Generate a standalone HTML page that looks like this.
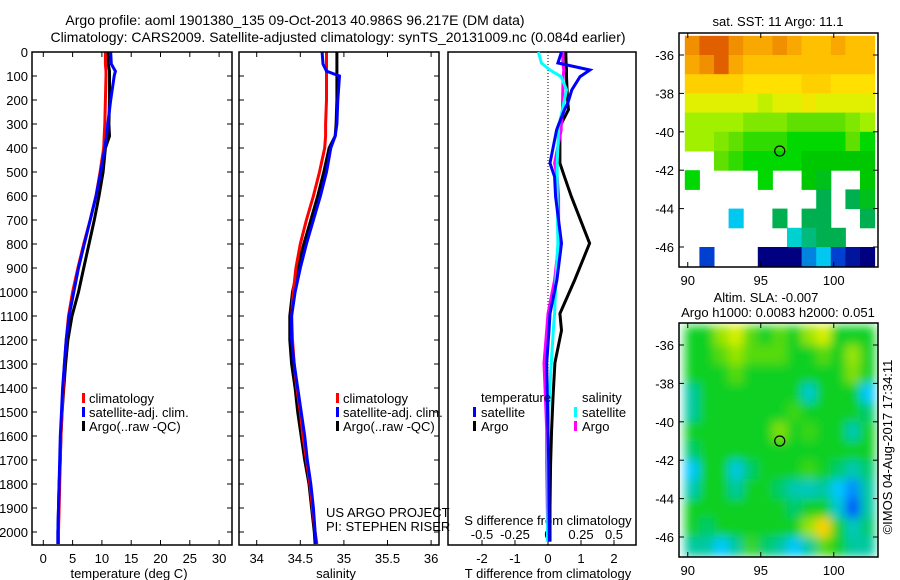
<!DOCTYPE html>
<html><head><meta charset="utf-8"><style>
html,body{margin:0;padding:0;background:#fff}
svg{display:block;font-family:"Liberation Sans",sans-serif}
</style></head><body>
<svg id="fig" width="900" height="580" viewBox="0 0 900 580">
<text x="295" y="25" font-size="14" text-anchor="middle">Argo profile: aoml 1901380_135 09-Oct-2013 40.986S 96.217E (DM data)</text>
<text x="338" y="42" font-size="14" text-anchor="middle">Climatology: CARS2009. Satellite-adjusted climatology: synTS_20131009.nc (0.084d earlier)</text>
</svg>
<script>
// ---------- data ----------
const depthTicks=[0,100,200,300,400,500,600,700,800,900,1000,1100,1200,1300,1400,1500,1600,1700,1800,1900,2000];
const tDepth=[0,50,80,100,200,300,350,400,500,600,700,800,900,1000,1100,1200,1300,1400,1500,1600,1700,1800,1900,2000,2050];
const tempClim=[10.6,10.6,10.7,10.7,10.6,10.5,10.4,10.3,9.7,9.0,8.0,6.9,5.9,5.0,4.3,3.9,3.6,3.4,3.2,3.0,2.9,2.8,2.7,2.6,2.6];
const tempSat=[11.5,11.6,12.3,12.1,11.5,11.0,10.8,10.5,9.8,9.0,8.0,7.0,6.0,5.2,4.4,3.9,3.6,3.3,3.1,2.9,2.8,2.7,2.6,2.5,2.5];
const tempArgo=[11.0,11.1,11.3,11.3,11.3,11.2,11.3,10.6,10.2,9.5,8.7,7.8,6.9,6.0,4.9,4.2,3.8,3.5,3.2,3.0,2.9,2.7,2.6,2.5,2.5];
const salClim=[34.80,34.80,34.80,34.80,34.80,34.79,34.79,34.78,34.72,34.65,34.57,34.50,34.45,34.42,34.40,34.41,34.43,34.46,34.50,34.53,34.57,34.61,34.64,34.67,34.69];
const salSat=[34.75,34.76,34.80,34.95,34.93,34.92,34.90,34.85,34.80,34.73,34.65,34.57,34.50,34.44,34.40,34.40,34.43,34.47,34.51,34.55,34.58,34.62,34.65,34.67,34.68];
const salArgo=[34.92,34.92,34.92,34.92,34.92,34.91,34.90,34.83,34.77,34.70,34.62,34.54,34.47,34.41,34.38,34.38,34.40,34.44,34.47,34.51,34.55,34.60,34.63,34.66,34.67];
const tTicks=[0,5,10,15,20,25,30];
const sTicks=[34,34.5,35,35.5,36];
const sTickLabels=["34","34.5","35","35.5","36"];
const dDepth=[0,46,75,103,158,213,240,310,325,463,520,603,797,950,1090,1160,1296,1440,1575,1715,1896,2040];
const dTSat=[0.41,0.30,1.27,0.97,0.72,0.60,0.50,0.30,0.26,0.06,0.20,0.23,0.41,0.27,0.06,0.03,-0.04,-0.02,0.00,0.02,0.03,0.04];
const dTArgo=[0.54,0.55,0.56,0.56,0.58,0.60,0.62,0.36,0.36,0.36,0.50,0.71,1.26,0.81,0.36,0.41,0.21,0.15,0.11,0.08,0.06,0.06];
const dSSat=[-0.073,-0.05,0.015,0.10,0.14,0.12,0.11,0.08,0.08,0.07,0.07,0.07,0.075,0.06,0.05,0.04,0.025,0.01,0.0,0.0,0.0,-0.005];
const dSArgo=[0.113,0.113,0.12,0.115,0.112,0.11,0.11,0.10,0.10,0.05,0.07,0.08,0.08,0.05,0.0,-0.01,-0.03,-0.02,-0.01,-0.01,-0.005,0.0];
const dtTicks=[-2,-1,0,1,2];
const dsTicks=[-0.5,-0.25,0,0.25,0.5];
const dsTickLabels=["-0.5","-0.25","0","0.25","0.5"];
const mapLons=[89.8,90.8,91.8,92.8,93.8,94.8,95.8,96.8,97.8,98.8,99.8,100.8,101.8];
const mapLats=[-35,-36,-37,-38,-39,-40,-41,-42,-43,-44,-45,-46];
const lonTicks=[90,95,100];
const latTicks=[-36,-38,-40,-42,-44,-46];
const N=null;
const sstGrid=[
[16,16.5,16.5,16,15.5,15.5,16,15.5,15,15,15.5,15,15],
[15.5,16,16.5,15.5,15,15,15,15,15,15,15,15,15],
[14.5,14.5,14.5,14.5,14,14,14,14,14.5,14.5,14,14,14],
[13,13,13,13,13,12.5,13,13,13.5,13,13,13,13],
[12,12,12,12,11.5,11.5,11.5,11,11,11,11,11.5,12],
[12,12,11.5,11,10.5,10.5,10.5,10,10,10,10,11,10],
[N,N,11,10.5,10,10,10,10,9.5,9.5,9.5,9.5,9.5],
[10,N,N,N,N,10,N,N,9.5,9,N,N,9.5],
[N,N,N,N,N,N,N,N,N,8,N,8,9],
[N,N,N,4,N,N,8,N,8,8,N,N,8],
[N,N,N,N,N,N,N,5,7,8,8,N,N],
[N,2,N,N,N,0.5,0.5,0.5,3,4,2,1,0.5]];
const slaGrid=[
[0,0,0.1,0.15,0.05,0,0.05,0,0.1,0.15,0,0,0],
[0,0,0.05,0.1,0.05,0.05,0.05,0,0,0.05,0,0.1,0],
[0,0,0,0.05,0,0,0,0,0,0,0,0.08,0],
[-0.05,0,0,0,0,0,0,0,-0.1,0,0,0,-0.15],
[-0.05,0,0,0,0,0,0,0.03,0,0,0,0,-0.03],
[0,0,0,0,0,0,0.08,0,0.03,0,0,-0.07,0],
[-0.03,0,0,0,0,0,0,0,0,0,0,0,0],
[-0.15,0,0,-0.12,-0.03,0,0,0,0.03,0,-0.03,-0.07,-0.03],
[-0.07,0,0,-0.05,0,0,-0.03,-0.07,-0.08,-0.05,-0.15,-0.2,-0.05],
[0,0,0,0,0,0,0,-0.03,0,0,-0.1,-0.25,-0.05],
[0,-0.03,0,0,0,0,0,0,0.1,0.2,0,-0.08,-0.03],
[-0.05,-0.05,-0.15,-0.05,0.03,-0.03,-0.05,-0.15,-0.05,0.05,0,-0.05,-0.05]];
const argoLon=96.3, argoLat=-41;

// ---------- helpers ----------
const NS="http://www.w3.org/2000/svg";
const svg=document.getElementById('fig');
function mk(tag,attrs,parent){const e=document.createElementNS(NS,tag);for(const k in attrs)e.setAttribute(k,attrs[k]);(parent||svg).appendChild(e);return e;}
function txt(x,y,s,size,anchor,parent){const t=mk('text',{x:x,y:y,'font-size':size,'text-anchor':anchor||'start'},parent);t.textContent=s;return t;}
const yD=d=>52+d*0.24;
const xT=t=>43.3+t*5.86;
const xS=s=>256.7+(s-34)*87.2;
const xDT=t=>548+t*33;
const xDS=s=>548+s*132;
function poly(xs,ys,fx,color,name,parent){
  const pts=xs.map((v,i)=>fx(v).toFixed(1)+','+yD(ys[i]).toFixed(1)).join(' ');
  const p=mk('polyline',{points:pts,fill:'none',stroke:color,'stroke-width':3,'stroke-linejoin':'miter'},parent);
  
  
}
function frame(x0,x1,name){
  const r=mk('rect',{x:x0,y:52,width:x1-x0,height:493,fill:'none',stroke:'#000','stroke-width':1.5});
  
  
  for(const d of depthTicks){mk('line',{x1:x0,y1:yD(d),x2:x0+5,y2:yD(d),stroke:'#000'});mk('line',{x1:x1,y1:yD(d),x2:x1-5,y2:yD(d),stroke:'#000'});}
}
// ---------- panel 1 ----------
const g1=mk('g',{});


frame(32,232,'temperature-frame');
for(const d of depthTicks){const t=txt(28,yD(d)+5,String(d),13,'end',g1);}
for(const t of tTicks){mk('line',{x1:xT(t),y1:545,x2:xT(t),y2:540,stroke:'#000'},g1);mk('line',{x1:xT(t),y1:52,x2:xT(t),y2:57,stroke:'#000'},g1);const l=txt(xT(t),563,String(t),13,'middle',g1);}
{const l=txt(129,578,'temperature (deg C)',13,'middle',g1);}
poly(tempArgo,tDepth,xT,'#000','temp-argo-line',g1);
poly(tempClim,tDepth,xT,'#f00','temp-climatology-line',g1);
poly(tempSat,tDepth,xT,'#00f','temp-satellite-line',g1);
function legend(x,items,g,prefix){
  items.forEach((it,i)=>{const y=403+i*14;
    const m=mk('rect',{x:x,y:y-10,width:3,height:10,fill:it[1]},g);
    
    
    const t=txt(x+7,y,it[0],13,'start',g);
    
    });
}
const leg=[['climatology','#f00'],['satellite-adj. clim.','#00f'],['Argo(..raw -QC)','#000']];
legend(82,leg,g1,'temp');
// ---------- panel 2 ----------
const g2=mk('g',{});


frame(239,439,'salinity-frame');
sTicks.forEach((s,i)=>{mk('line',{x1:xS(s),y1:545,x2:xS(s),y2:540,stroke:'#000'},g2);mk('line',{x1:xS(s),y1:52,x2:xS(s),y2:57,stroke:'#000'},g2);const l=txt(xS(s),563,sTickLabels[i],13,'middle',g2);});
{const l=txt(336,578,'salinity',13,'middle',g2);}
poly(salArgo,tDepth,xS,'#000','sal-argo-line',g2);
poly(salClim,tDepth,xS,'#f00','sal-climatology-line',g2);
poly(salSat,tDepth,xS,'#00f','sal-satellite-line',g2);
legend(336,leg,g2,'sal');
{const a=txt(326,517,'US ARGO PROJECT',13,'start',g2);
 const b=txt(326,531,'PI: STEPHEN RISER',13,'start',g2);}
// ---------- panel 3 ----------
const g3=mk('g',{});


{const r=mk('rect',{x:448,y:52,width:188,height:493,fill:'none',stroke:'#000','stroke-width':1.5},g3);}
mk('line',{x1:xDT(0),y1:52,x2:xDT(0),y2:545,stroke:'#000','stroke-dasharray':'1,2'},g3);
dtTicks.forEach(t=>{mk('line',{x1:xDT(t),y1:545,x2:xDT(t),y2:540,stroke:'#000'},g3);const l=txt(xDT(t),563,String(t),13,'middle',g3);});
dsTicks.forEach((s,i)=>{const l=txt(xDS(s),539,dsTickLabels[i],13,'middle',g3);});
{const l=txt(548,525,'S difference from climatology',13,'middle',g3);
 const m=txt(548,578,'T difference from climatology',13,'middle',g3);}
poly(dTArgo,dDepth,xDT,'#000','dt-argo-line',g3);
poly(dSArgo,dDepth,xDS,'#f0f','ds-argo-line',g3);
poly(dSSat,dDepth,xDS,'#0ff','ds-satellite-line',g3);
poly(dTSat,dDepth,xDT,'#00f','dt-satellite-line',g3);
{const a=txt(481,402,'temperature',13,'start',g3);
 const b=txt(582,402,'salinity',13,'start',g3);}
[[473,'satellite','#00f',0],[473,'Argo','#000',1],[574,'satellite','#0ff',0],[574,'Argo','#f0f',1]].forEach(e=>{
  const y=417+e[3]*14;
  const m=mk('rect',{x:e[0],y:y-10,width:3,height:10,fill:e[2]},g3);
  
  
  const t=txt(e[0]+8,y,e[1],13,'start',g3);
  
  
});
// ---------- maps ----------
function lerpColor(stops,v){
  if(v<=stops[0][0])return stops[0][1];
  for(let i=1;i<stops.length;i++){if(v<=stops[i][0]){const a=stops[i-1],b=stops[i],f=(v-a[0])/(b[0]-a[0]);
    const ca=a[1],cb=b[1];return 'rgb('+[0,1,2].map(k=>Math.round(ca[k]+(cb[k]-ca[k])*f)).join(',')+')';}}
  return stops[stops.length-1][1];
}
function rgb(c){return Array.isArray(c)?'rgb('+c.join(',')+')':c;}
const sstStops=[[0.5,[0,0,128]],[2,[0,64,208]],[4,[0,200,240]],[5,[0,208,208]],[8,[0,176,80]],[9.5,[0,200,0]],[10,[0,216,0]],[11,[96,224,0]],[12,[160,240,0]],[13,[224,240,0]],[14,[255,224,0]],[15,[255,192,0]],[16,[240,144,0]],[16.5,[224,96,0]]];
const slaStops=[[-0.25,[0,80,255]],[-0.15,[0,200,255]],[-0.05,[0,200,160]],[0,[16,208,32]],[0.08,[128,224,0]],[0.15,[216,240,0]],[0.2,[255,208,0]]];
function drawMap(top,grid,stops,name,blur){
  const xL=l=>679+(l-89.4)*14.6;
  const yL=la=>top+22+(-36-la)*19.2;
  const g=mk('g',{});
  
  
  const cg=mk('g',blur?{filter:'url(#bl)','clip-path':'url(#clip'+top+')'}:{'clip-path':'url(#clip'+top+')'},g);
  const cp=mk('clipPath',{id:'clip'+top},g);mk('rect',{x:679,y:top,width:199,height:234},cp);
  grid.forEach((row,r)=>row.forEach((v,c)=>{if(v===null)return;
    const x0=xL(mapLons[c]),y0=yL(mapLats[r]);
    const cell=mk('rect',{x:x0.toFixed(1),y:y0.toFixed(1),width:(xL(mapLons[c]+1)-x0+0.5).toFixed(1),height:(yL(mapLats[r]-1)-y0+0.5).toFixed(1),fill:rgb(lerpColor(stops,v))},cg);
    
    }));
  const f=mk('rect',{x:679,y:top,width:199,height:234,fill:'none',stroke:'#000','stroke-width':1.5},g);
  
  
  lonTicks.forEach(l=>{mk('line',{x1:xL(l),y1:top+234,x2:xL(l),y2:top+229,stroke:'#000'},g);mk('line',{x1:xL(l),y1:top,x2:xL(l),y2:top+5,stroke:'#000'},g);const t=txt(xL(l),top+252,String(l),13,'middle',g);});
  latTicks.forEach(la=>{mk('line',{x1:679,y1:yL(la),x2:684,y2:yL(la),stroke:'#000'},g);mk('line',{x1:878,y1:yL(la),x2:873,y2:yL(la),stroke:'#000'},g);const t=txt(674,yL(la)+5,String(la),13,'end',g);});
  const c=mk('circle',{cx:xL(argoLon),cy:yL(argoLat),r:5,fill:'none',stroke:'#000','stroke-width':1.2},g);
  
  
}
const defs=mk('defs',{});const flt=mk('filter',{id:'bl',x:'-5%',y:'-5%',width:'110%',height:'110%'},defs);mk('feGaussianBlur',{stdDeviation:5},flt);
drawMap(33,sstGrid,sstStops,'sst-map',false);
drawMap(323,slaGrid,slaStops,'sla-map',true);
{const a=txt(778,26,'sat. SST: 11 Argo: 11.1',13,'middle');
 const b=txt(766,302,'Altim. SLA: -0.007',13,'middle');
 const c=txt(778,317,'Argo h1000: 0.0083 h2000: 0.051',13,'middle');
 const d=txt(0,0,'©IMOS 04-Aug-2017 17:34:11',13,'middle');d.setAttribute('transform','translate(892,447) rotate(-90)');}
</script>
</body></html>
